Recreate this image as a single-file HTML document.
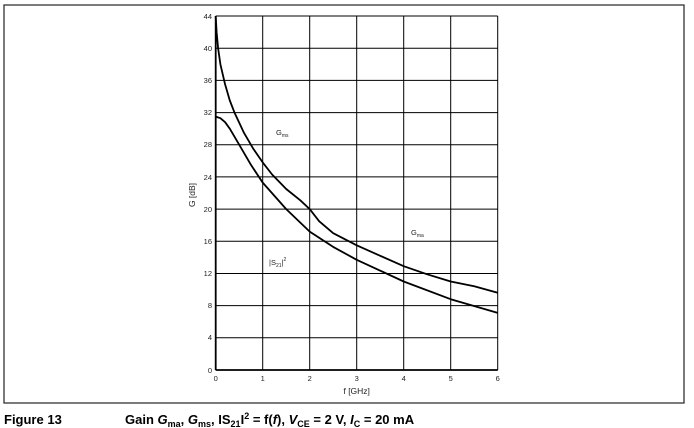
<!DOCTYPE html>
<html><head><meta charset="utf-8"><style>
body{margin:0;background:#fff;width:694px;height:428px;overflow:hidden}
svg{display:block}
.t{font-family:"Liberation Sans",sans-serif;font-size:7.5px;fill:#222}
.c{font-family:"Liberation Sans",sans-serif;font-size:13px;font-weight:bold;fill:#000}
</style></head><body>
<svg width="694" height="428" viewBox="0 0 694 428">
<rect x="4" y="5" width="680" height="398" fill="none" stroke="#333" stroke-width="1.3"/>
<g stroke="#000" stroke-width="1">
<line x1="215.7" y1="16" x2="497.7" y2="16"/>
<line x1="215.7" y1="48.2" x2="497.7" y2="48.2"/>
<line x1="215.7" y1="80.4" x2="497.7" y2="80.4"/>
<line x1="215.7" y1="112.6" x2="497.7" y2="112.6"/>
<line x1="215.7" y1="144.7" x2="497.7" y2="144.7"/>
<line x1="215.7" y1="176.9" x2="497.7" y2="176.9"/>
<line x1="215.7" y1="209.1" x2="497.7" y2="209.1"/>
<line x1="215.7" y1="241.3" x2="497.7" y2="241.3"/>
<line x1="215.7" y1="273.5" x2="497.7" y2="273.5"/>
<line x1="215.7" y1="305.6" x2="497.7" y2="305.6"/>
<line x1="215.7" y1="337.8" x2="497.7" y2="337.8"/>
<line x1="215.7" y1="370" x2="497.7" y2="370"/>
<line x1="215.7" y1="16" x2="215.7" y2="370"/>
<line x1="262.7" y1="16" x2="262.7" y2="370"/>
<line x1="309.7" y1="16" x2="309.7" y2="370"/>
<line x1="356.7" y1="16" x2="356.7" y2="370"/>
<line x1="403.7" y1="16" x2="403.7" y2="370"/>
<line x1="450.7" y1="16" x2="450.7" y2="370"/>
<line x1="497.7" y1="16" x2="497.7" y2="370"/>
</g>
<line x1="215.7" y1="16" x2="215.7" y2="370" stroke="#000" stroke-width="1.8"/>
<line x1="215.7" y1="370" x2="497.7" y2="370" stroke="#000" stroke-width="1.8"/>
<g fill="none" stroke="#000" stroke-width="1.8" stroke-linejoin="round">
<polyline points="215.7,16 216.6,32.1 218.1,48.2 220.4,64.3 225.1,84.4 229.8,100.5 234.5,112.6 243.9,132.7 253.3,148.8 262.7,162.4 272.1,174.5 286.2,189 300.3,200.3 309.7,209.1 319.1,221.2 333.2,233.2 356.7,245.3 380.2,255.8 403.7,266.2 427.2,274.3 450.7,281.5 474.2,286.3 497.7,292.8"/>
<polyline points="215.7,116.6 220.4,118.2 225.1,122.2 229.8,128.7 239.2,144.7 251,164.9 262.7,182.6 286.2,209.1 309.7,231.6 333.2,246.9 356.7,259.8 403.7,281.5 450.7,299.2 497.7,312.9"/>
</g>
<g class="t" text-anchor="end">
<text x="212" y="19">44</text><text x="212" y="51">40</text><text x="212" y="83">36</text>
<text x="212" y="115">32</text><text x="212" y="147">28</text><text x="212" y="180">24</text>
<text x="212" y="212">20</text><text x="212" y="244">16</text><text x="212" y="276">12</text>
<text x="212" y="308">8</text><text x="212" y="340">4</text><text x="212" y="373">0</text>
</g>
<g class="t" text-anchor="middle">
<text x="215.7" y="381">0</text><text x="262.7" y="381">1</text><text x="309.7" y="381">2</text>
<text x="356.7" y="381">3</text><text x="403.7" y="381">4</text><text x="450.7" y="381">5</text>
<text x="497.7" y="381">6</text>
<text x="356.7" y="394" font-size="8.5">f [GHz]</text>
<text transform="translate(195,195) rotate(-90)" font-size="8.5">G [dB]</text>
</g>
<text class="t" x="276" y="135" font-size="9">G<tspan font-size="5" dy="2">ms</tspan></text>
<text class="t" x="411" y="235" font-size="9">G<tspan font-size="5" dy="2">ma</tspan></text>
<text class="t" x="269" y="265" font-size="9">|S<tspan font-size="5" dy="2">21</tspan><tspan dy="-2">|</tspan><tspan font-size="5" dy="-4">2</tspan></text>
<text class="c" x="4" y="424">Figure 13</text>
<text class="c" x="125" y="424">Gain <tspan font-style="italic">G</tspan><tspan font-size="9" dy="3">ma</tspan><tspan dy="-3">, </tspan><tspan font-style="italic">G</tspan><tspan font-size="9" dy="3">ms</tspan><tspan dy="-3">, IS</tspan><tspan font-size="9" dy="3">21</tspan><tspan dy="-3">I</tspan><tspan font-size="9" dy="-5">2</tspan><tspan dy="5"> = f(</tspan><tspan font-style="italic">f</tspan>), <tspan font-style="italic">V</tspan><tspan font-size="9" dy="3">CE</tspan><tspan dy="-3"> = 2 V, </tspan><tspan font-style="italic">I</tspan><tspan font-size="9" dy="3">C</tspan><tspan dy="-3"> = 20 mA</tspan></text>
</svg>
</body></html>
